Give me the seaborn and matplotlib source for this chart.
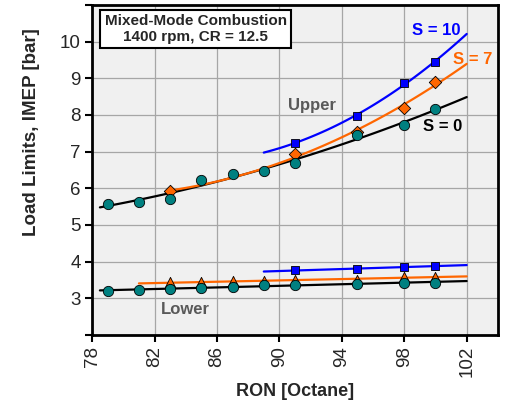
import numpy as np
import pandas as pd
import matplotlib
matplotlib.use("Agg")
import matplotlib.pyplot as plt
import seaborn as sns

# ---- data ----
ron_s0 = [79, 81, 83, 85, 87, 89, 91, 95, 98, 100]
upper_s0 = [5.58, 5.62, 5.71, 6.23, 6.40, 6.46, 6.69, 7.44, 7.72, 8.17]
lower_s0 = [3.20, 3.23, 3.26, 3.29, 3.31, 3.35, 3.37, 3.40, 3.42, 3.42]

ron_s7_up = [83, 91, 95, 98, 100]
upper_s7 = [5.92, 6.93, 7.54, 8.19, 8.90]
ron_s7_lo = [83, 85, 87, 89, 91, 95, 98, 100]
lower_s7 = [3.43, 3.44, 3.46, 3.48, 3.49, 3.50, 3.57, 3.59]

ron_s10 = [91, 95, 98, 100]
upper_s10 = [7.24, 7.98, 8.87, 9.45]
lower_s10 = [3.76, 3.80, 3.85, 3.88]

x_ticks = [78, 82, 86, 90, 94, 98, 102]
y_ticks = [2, 3, 4, 5, 6, 7, 8, 9, 10, 11]
y_ticklabels = ["", "3", "4", "5", "6", "7", "8", "9", "10", ""]

TEAL = "#008080"
ORANGE = "#FF6600"
BLUE = "#0000FF"

sns.set_style("whitegrid", {"axes.facecolor": "#F0F0F0", "grid.color": "#A6A6A6",
                            "axes.edgecolor": "black"})
plt.rcParams["font.family"] = ["Liberation Sans", "DejaVu Sans"]

fig = plt.figure(figsize=(5.06, 4.03), dpi=100)
ax = fig.add_axes([0.182, 0.169, 0.802, 0.819])


def fit_line(xs, ys, deg, x0, x1, color):
    c = np.polyfit(xs, ys, deg)
    xx = np.linspace(x0, x1, 60)
    df = pd.DataFrame({"x": xx, "y": np.polyval(c, xx)})
    sns.lineplot(data=df, x="x", y="y", color=color, lw=1.6, ax=ax, zorder=3)


# fitted curves
fit_line(ron_s0, upper_s0, 2, 78.5, 102, "black")
fit_line(ron_s7_up, upper_s7, 2, 83, 102, ORANGE)
fit_line(ron_s10, upper_s10, 2, 89, 102, BLUE)
fit_line(ron_s0, lower_s0, 1, 78.5, 102, "black")
fit_line(ron_s7_lo, lower_s7, 1, 81, 102, ORANGE)
fit_line(ron_s10, lower_s10, 1, 89, 102, BLUE)

# markers
kw = dict(edgecolor="black", linewidth=0.6, ax=ax, zorder=4, legend=False)
sns.scatterplot(x=ron_s7_up, y=upper_s7, marker="D", s=40, color=ORANGE, **kw)
sns.scatterplot(x=ron_s7_lo, y=lower_s7, marker="^", s=55, color=ORANGE, **kw)
sns.scatterplot(x=ron_s10, y=upper_s10, marker="s", s=40, color=BLUE, **kw)
sns.scatterplot(x=ron_s10, y=lower_s10, marker="s", s=40, color=BLUE, **kw)
kw["zorder"] = 5
sns.scatterplot(x=ron_s0, y=upper_s0, marker="o", s=55, color=TEAL, **kw)
sns.scatterplot(x=ron_s0, y=lower_s0, marker="o", s=55, color=TEAL, **kw)

ax.set_xlim(78, 104)
ax.set_ylim(2, 11)
ax.set_xticks(x_ticks)
ax.set_xticklabels([str(t) for t in x_ticks], rotation=90, fontsize=13.5)
ax.set_yticks(y_ticks)
ax.set_yticklabels(y_ticklabels, fontsize=13.5)
ax.tick_params(axis="both", direction="out", length=5, width=1.5, color="black",
               bottom=True, left=True, pad=3)
ax.grid(True, lw=0.9)
for sp in ax.spines.values():
    sp.set_linewidth(2)
    sp.set_color("black")

ax.set_xlabel("RON [Octane]", fontsize=13, fontweight="bold", labelpad=4)
ax.set_ylabel("Load Limits, IMEP [bar]", fontsize=13.5, fontweight="bold")
ax.yaxis.set_label_coords(-0.128, 0.615)

ax.text(0.255, 0.927, "Mixed-Mode Combustion\n1400 rpm, CR = 12.5", transform=ax.transAxes,
        ha="center", va="center", multialignment="center", fontsize=11,
        fontweight="bold", linespacing=1.15,
        bbox=dict(boxstyle="square,pad=0.3", fc="white", ec="black", lw=1.5), zorder=6)
ax.text(90.57, 8.26, "Upper", color="#595959", fontsize=12, fontweight="bold",
        va="center")
ax.text(82.4, 2.68, "Lower", color="#595959", fontsize=12, fontweight="bold",
        va="center")
ax.text(98.5, 10.3, "S = 10", color=BLUE, fontsize=12, fontweight="bold", va="center")
ax.text(101.1, 9.5, "S = 7", color=ORANGE, fontsize=12, fontweight="bold", va="center")
ax.text(99.2, 7.68, "S = 0", color="black", fontsize=12, fontweight="bold", va="center")

fig.savefig("out.png", dpi=100)
